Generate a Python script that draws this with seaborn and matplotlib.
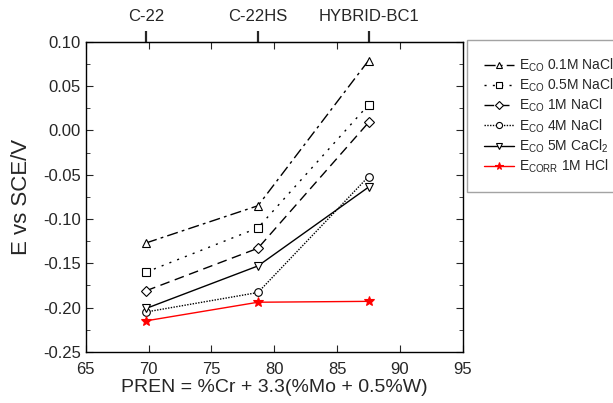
import matplotlib
matplotlib.use("Agg")
import matplotlib.pyplot as plt
import seaborn as sns
import pandas as pd
from matplotlib.ticker import MultipleLocator

sns.set_style("ticks")
plt.rcParams["font.family"] = ["Liberation Sans", "DejaVu Sans"]
plt.rcParams["mathtext.fontset"] = "custom"
plt.rcParams["mathtext.rm"] = "Liberation Sans"

# data
pren = [69.8, 78.7, 87.5]
alloys = ["C-22", "C-22HS", "HYBRID-BC1"]
eco_01m_nacl = [-0.127, -0.085, 0.079]
eco_05m_nacl = [-0.160, -0.110, 0.029]
eco_1m_nacl = [-0.181, -0.133, 0.009]
eco_4m_nacl = [-0.205, -0.183, -0.052]
eco_5m_cacl2 = [-0.201, -0.153, -0.064]
ecorr_1m_hcl = [-0.215, -0.194, -0.193]

labels = [r"E$_{\mathregular{CO}}$ 0.1M NaCl",
          r"E$_{\mathregular{CO}}$ 0.5M NaCl",
          r"E$_{\mathregular{CO}}$ 1M NaCl",
          r"E$_{\mathregular{CO}}$ 4M NaCl",
          r"E$_{\mathregular{CO}}$ 5M CaCl$_{\mathregular{2}}$",
          r"E$_{\mathregular{CORR}}$ 1M HCl"]
series = [eco_01m_nacl, eco_05m_nacl, eco_1m_nacl, eco_4m_nacl, eco_5m_cacl2, ecorr_1m_hcl]
styles = [
    dict(linestyle=(0, (8, 3, 2, 3)), marker="^", color="black", mfc="white"),
    dict(linestyle=(0, (1.5, 4.5)), marker="s", color="black", mfc="white"),
    dict(linestyle=(0, (7, 4)), marker="D", color="black", mfc="white", ms=5),
    dict(linestyle=(0, (1, 1)), marker="o", color="black", mfc="white"),
    dict(linestyle="-", marker="v", color="black", mfc="white"),
    dict(linestyle="-", marker="*", color="red", mfc="red", ms=7),
]

fig = plt.figure(figsize=(6.13, 4.03), dpi=100)
ax = fig.add_axes([0.140, 0.127, 0.615, 0.769])

for y, lab, st in zip(series, labels, styles):
    df = pd.DataFrame({"x": pren, "y": y})
    st = dict(st)
    ms = st.pop("ms", 5.5)
    sns.lineplot(data=df, x="x", y="y", ax=ax, label=lab, lw=1.0, ms=ms,
                 mew=0.8, mec=st["color"], **st)

ax.set_xlim(65, 95)
ax.set_ylim(-0.25, 0.10)
ax.xaxis.set_major_locator(MultipleLocator(5))
ax.yaxis.set_major_locator(MultipleLocator(0.05))
ax.yaxis.set_minor_locator(MultipleLocator(0.025))
ax.yaxis.set_major_formatter(matplotlib.ticker.FormatStrFormatter("%.2f"))
ax.tick_params(which="both", direction="in", top=True, right=True, labelsize=12)
ax.tick_params(axis="x", pad=7)
ax.tick_params(which="major", length=5)
ax.tick_params(which="minor", length=3)
for s in ax.spines.values():
    s.set_linewidth(1.0)
    s.set_color("black")

ax.set_xlabel("PREN = %Cr + 3.3(%Mo + 0.5%W)", fontsize=14, labelpad=2)
ax.set_ylabel("E vs SCE/V", fontsize=16, labelpad=8)

top = ax.secondary_xaxis("top")
top.set_xticks(pren)
top.set_xticklabels(alloys)
top.tick_params(direction="out", length=8, width=1.6, labelsize=12, pad=5)

leg = ax.legend(loc="upper left", bbox_to_anchor=(467 / 613, 1 - 40 / 403),
                bbox_transform=fig.transFigure, fancybox=False,
                edgecolor="0.55", fontsize=10, handlelength=2.2, handletextpad=0.35,
                labelspacing=0.2, borderpad=1.2, borderaxespad=0, markerscale=0.8)
leg.get_frame().set_linewidth(1.0)

fig.savefig("out.png", dpi=100)
